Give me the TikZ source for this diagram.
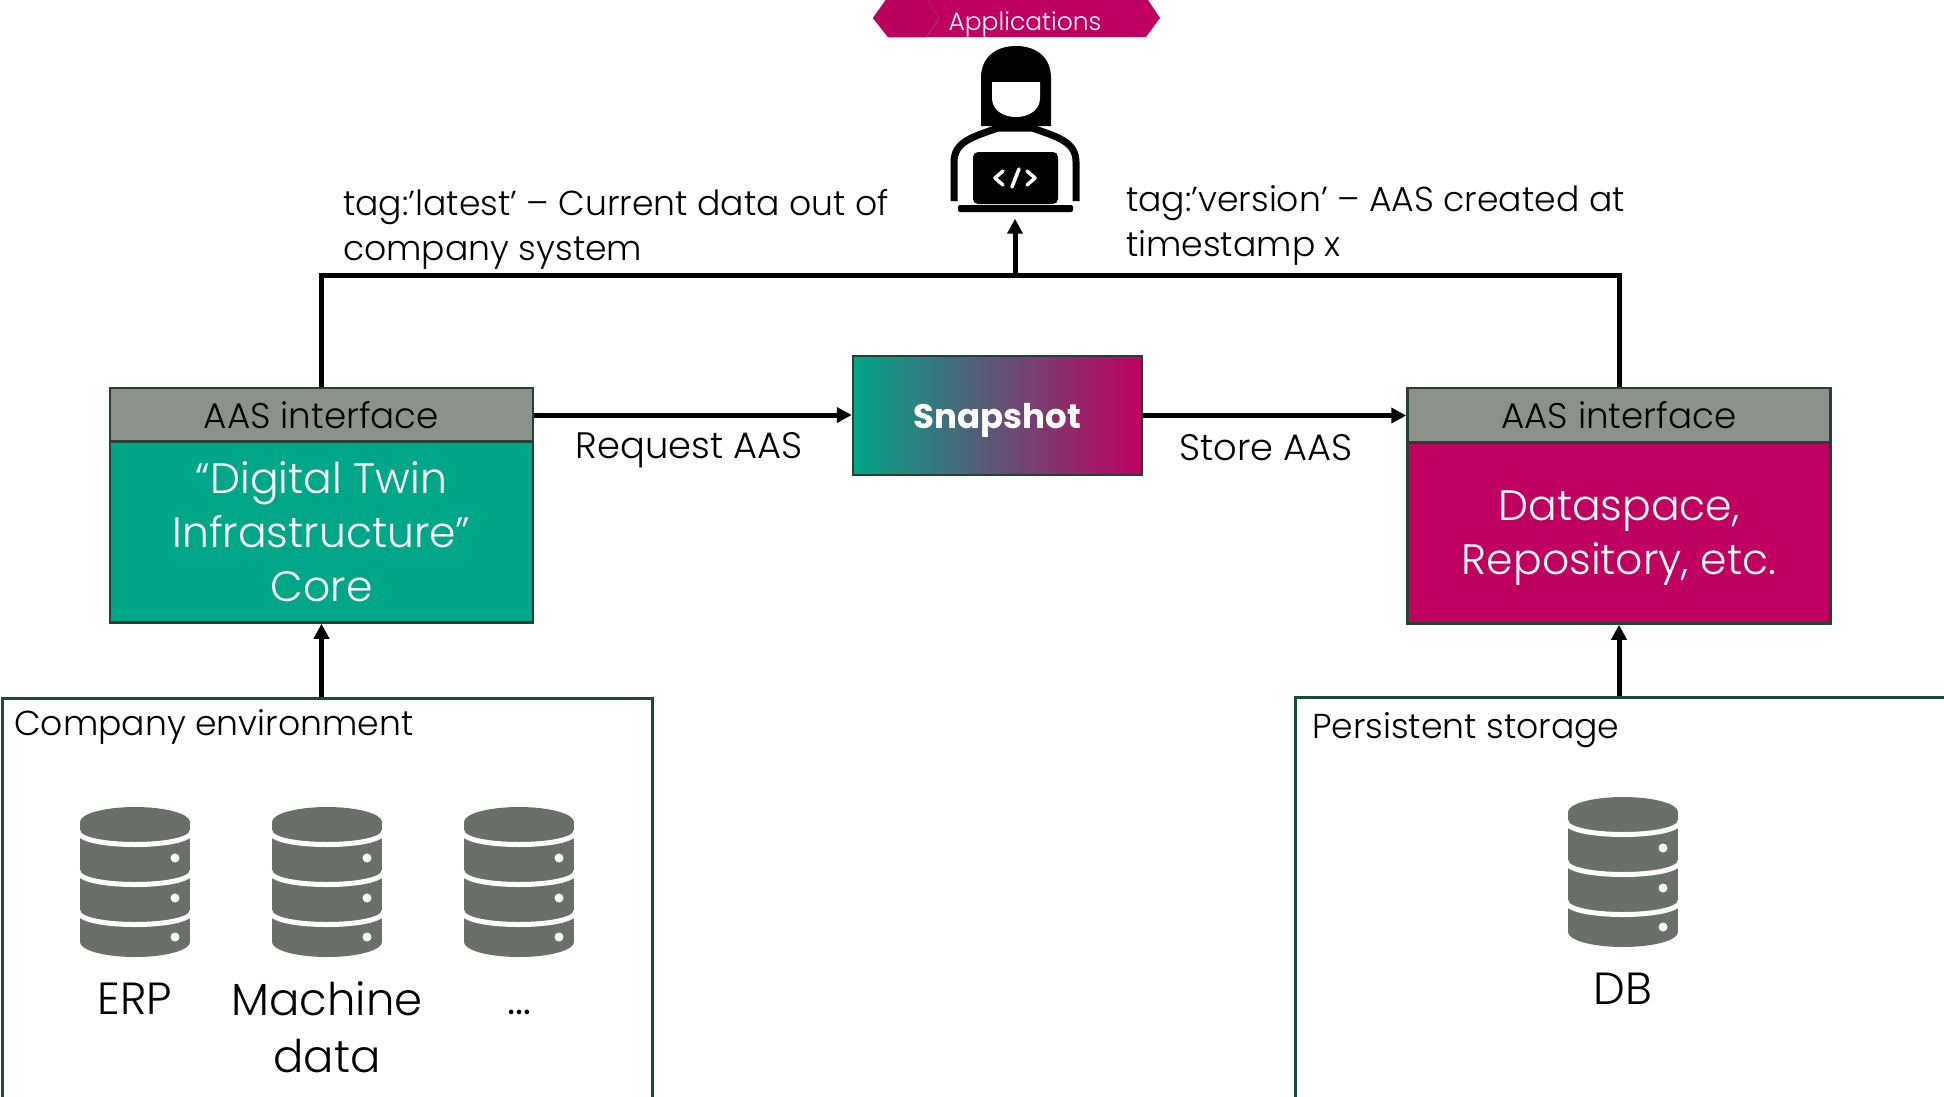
\documentclass[tikz,border=0pt]{standalone}
\usepackage{fontspec}
\IfFontExistsTF{Poppins Light}{\setmainfont{Poppins Light}}{\setmainfont{Poppins}}
\newfontfamily\snapfont{Poppins}
\usetikzlibrary{arrows.meta,shadows}
\definecolor{teal1}{RGB}{0,166,136}
\definecolor{mag1}{RGB}{192,0,96}
\definecolor{mag2}{RGB}{184,0,92}
\definecolor{hgray}{RGB}{140,145,140}
\definecolor{bord}{RGB}{38,64,52}
\definecolor{dbgray}{RGB}{107,111,106}
\definecolor{envb}{RGB}{25,75,60}
\newcommand\dbicon[2]{%
  \fill[dbgray] (#1,{#2+15}) ellipse [x radius=55, y radius=15];
  \fill[dbgray] ({#1-55},{#2+15}) rectangle ({#1+55},{#2+135});
  \fill[dbgray] (#1,{#2+135}) ellipse [x radius=55, y radius=15];
  \foreach \d in {24,64,104}{
    \draw[white, line width=5] ({#1-57},{#2+\d}) .. controls ({#1-57},{#2+\d+18}) and ({#1+57},{#2+\d+18}) .. ({#1+57},{#2+\d});
  }
  \foreach \d in {51,91,130}{
    \fill[white] ({#1+40},{#2+\d}) circle [radius=4.5];
  }
}
\begin{document}
\begin{tikzpicture}[x=1pt,y=-1pt,
  conn/.style={line width=5pt},
  arr/.style={conn, -{Triangle[length=15pt,width=15pt]}},
  hdr/.style={draw=bord, line width=2.5pt, fill=hgray, minimum width=423pt, minimum height=54pt, inner sep=0pt, font=\fontsize{35.7}{40}\selectfont},
  bodybox/.style={draw=bord, line width=2.5pt, minimum width=423pt, minimum height=181pt, inner sep=0pt, text=white, align=center, font=\fontsize{42.5}{54}\selectfont},
  envbox/.style={draw=envb, line width=2.5pt, minimum width=650pt, minimum height=402pt, inner sep=0pt, anchor=north west},
  lbl/.style={inner sep=0pt, font=\fontsize{34.6}{45}\selectfont, align=left},
  arrlbl/.style={inner sep=0pt, font=\fontsize{36.8}{45}\selectfont},
  dblbl/.style={inner sep=0pt, font=\fontsize{45}{57}\selectfont, align=center},
]
\useasboundingbox (0,0) rectangle (1944,1096);
\clip (0,0) rectangle (1944,1096);
\fill[white] (0,0) rectangle (1944,1096);

% Applications banner
\fill[mag1] (873,18) -- (888,-3) -- (1146,-3) -- (1160,18) -- (1146,37) -- (888,37) -- cycle;
\fill[mag2, drop shadow={shadow xshift=2pt, shadow yshift=-1pt, opacity=0.25}] (873,18) -- (888,-3) -- (925,-3) -- (938,18) -- (925,37) -- (888,37) -- cycle;
\node[text=white, inner sep=0pt, font=\fontsize{25}{30}\selectfont] (app) at (1025,24) {Applications};

% Person icon
\node[minimum width=130pt, minimum height=175pt, inner sep=0pt] (person) at (1015,131) {};
\draw[line width=7pt, fill=white, line join=round] (954,201) -- (954,162) .. controls (954,142) and (972,137) .. (998,128) -- (1032,128) .. controls (1058,137) and (1076,142) .. (1076,162) -- (1076,201);
\fill (981,126) -- (981,78) .. controls (981,57) and (996,46) .. (1016,46) .. controls (1036,46) and (1051,57) .. (1051,78) -- (1051,126) -- cycle;
\fill[white] (992,82) -- (1040,82) -- (1040,98) .. controls (1040,110) and (1029,117) .. (1016,117) .. controls (1003,117) and (992,110) .. (992,98) -- cycle;
\fill[rounded corners=5pt] (973,152) rectangle (1058,204);
\draw[white, line width=3.5pt, line cap=round, line join=round] (1003,171) -- (995,178) -- (1003,185) (1027,171) -- (1035,178) -- (1027,185) (1019,169) -- (1012,187);
\fill[rounded corners=2pt] (958,205) rectangle (1073,212);

% Labels at top
\node[lbl, anchor=west] (tagl) at (343,229) {tag:'latest' – Current data out of\\company system};
\node[lbl, anchor=west] (tagv) at (1126,225) {tag:'version' – AAS created at\\timestamp x};

% Boxes
\node[hdr] (lhead) at (321.5,415) {AAS interface};
\node[bodybox, fill=teal1] (lbody) at (321.5,532) {“Digital Twin\\Infrastructure”\\Core};
\node[hdr] (rhead) at (1619,415) {AAS interface};
\node[bodybox, fill=mag1, text depth=0pt] (rbody) at (1619,533) {Dataspace,\\Repository, etc.};
\node[draw=bord, line width=2.5pt, left color=teal1, right color=mag1, minimum width=289pt, minimum height=119pt, inner sep=0pt, text depth=0pt, text=white, font=\snapfont\bfseries\fontsize{34}{40}\selectfont] (snap) at (997.5,415.5) {Snapshot};

\node[arrlbl] (req) at (689,450) {Request AAS};
\node[arrlbl] (sto) at (1266,448) {Store AAS};

% Environment boxes
\node[envbox] (comp) at (1,697) {};
\node[envbox] (stor) at (1294,696) {};
\node[lbl, anchor=west] (compl) at (14,727) {Company environment};
\node[lbl, anchor=west] (storl) at (1312,730) {Persistent storage};

\dbicon{135}{807}
\dbicon{327}{807}
\dbicon{519}{807}
\dbicon{1623}{797}
\node[dblbl] (erp) at (135,999) {ERP};
\node[dblbl] (mach) at (327,1027) {Machine\\data};
\node[dblbl, anchor=base] (dots) at (519,1014) {…};
\node[dblbl] (db) at (1623,989) {DB};

% Connectors
\coordinate (jn) at (1015,275);
\draw[conn] (lhead.north) |- (jn) -| (rhead.north);
\draw[arr] (jn) -- (person.south);
\draw[arr] (lhead.east) -- (lhead.east -| snap.west);
\draw[arr] (snap.east) -- (snap.east -| rhead.west);
\draw[arr] (comp.north -| lbody.south) -- (lbody.south);
\draw[arr] (stor.north -| rbody.south) -- (rbody.south);
\end{tikzpicture}
\end{document}
